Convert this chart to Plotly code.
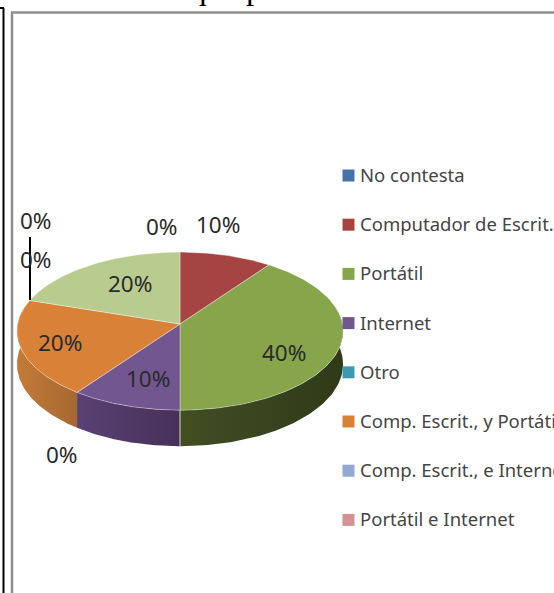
import numpy as np
import plotly.graph_objects as go

categories = ["No contesta", "Computador de Escrit.", "Portátil", "Internet", "Otro",
              "Comp. Escrit., y Portátil", "Comp. Escrit., e Internet", "Portátil e Internet", ""]
values = [0, 10, 40, 10, 0, 20, 0, 0, 20]
colors = ["#4572a7", "#a54442", "#87a54b", "#71568f", "#3f98b0",
          "#da8138", "#94a9d1", "#d19393", "#b8cc90"]
side_ramps = {1: ("#6e2d2c", "#6e2d2c"), 2: ("#414f23", "#2f3a18"), 3: ("#5a4175", "#453158"),
              5: ("#c47a38", "#a66830"), 8: ("#7a8a5c", "#7a8a5c")}
pct_labels = ["0%", "10%", "40%", "10%", "0%", "20%", "0%", "0%", "20%"]
label_xy = [(162, 226), (218, 224), (284, 352), (148, 378), (62, 454),
            (60, 342), (36, 220), (36, 259), (130, 283)]
title_text = "que posee o usa."

CX, CY, RX, RY, PERSP, DEPTH = 180, 324, 162.4, 78.4, 0.09, 32.8


def rim(deg, drop=0.0):
    t = np.radians(deg)
    s, c = np.sin(t), np.cos(t)
    w = 1 + PERSP * c
    return CX + RX * s / w, CY - RY * c / w + drop / w


fig = go.Figure()
total = sum(values)
edges = np.cumsum([0] + values) / total * 360

# side walls first, so the top surface covers them
for i, v in enumerate(values):
    lo, hi = max(edges[i], 80), min(edges[i + 1], 280)
    if v == 0 or hi <= lo:
        continue
    a = np.linspace(lo, hi, 80)
    x1, y1 = rim(a)
    x2, y2 = rim(a[::-1], DEPTH)
    ramp = side_ramps[i]
    fig.add_trace(go.Scatter(
        x=np.r_[x1, x2, x1[:1]], y=np.r_[y1, y2, y1[:1]], mode="lines", fill="toself",
        line=dict(width=0), hoverinfo="skip", showlegend=False,
        fillgradient=dict(type="horizontal", colorscale=[[0, ramp[0]], [1, ramp[1]]]),
    ))

# separator on the front wall
for deg in edges:
    if 90 < deg < 270 and abs(deg - 180) < 1:
        x0, y0 = rim(deg)
        x1, y1 = rim(deg, DEPTH)
        fig.add_trace(go.Scatter(x=[x0, x1], y=[y0, y1], mode="lines",
                                 line=dict(color="#d8dcc8", width=1),
                                 hoverinfo="skip", showlegend=False))

# top surface
for i, v in enumerate(values):
    if v == 0:
        continue
    a = np.linspace(edges[i], edges[i + 1], 120)
    x, y = rim(a)
    fig.add_trace(go.Scatter(
        x=np.r_[CX, x, CX], y=np.r_[CY, y, CY], mode="lines", fill="toself",
        fillcolor=colors[i], line=dict(color="rgba(255,255,255,0.45)", width=0.8),
        name=categories[i] or "Otros", hoverinfo="skip", showlegend=False,
    ))

# legend swatches (eight named entries)
named = [i for i, c in enumerate(categories) if c]
legend_y = [175.5 + 49.2 * k for k in range(len(named))]
fig.add_trace(go.Scatter(
    x=[348.5] * len(named), y=legend_y, mode="markers",
    marker=dict(symbol="square", size=12, color=[colors[i] for i in named],
                line=dict(width=0)),
    hoverinfo="skip", showlegend=False,
))

annotations = []
for k, i in enumerate(named):
    annotations.append(dict(x=358, y=legend_y[k] - 1, text=categories[i], showarrow=False,
                            xanchor="left", yanchor="middle", xref="x", yref="y",
                            font=dict(family="Noto Sans", size=18.5, color="#454545")))
for txt, (lx, ly) in zip(pct_labels, label_xy):
    annotations.append(dict(x=lx, y=ly, text=txt, showarrow=False, xref="x", yref="y",
                            font=dict(family="Noto Sans", size=22.5, color="#2a2a2a")))
annotations.append(dict(x=188 / 554, y=1 - 8 / 593, text=title_text, showarrow=False,
                        xref="paper", yref="paper", xanchor="left", yanchor="bottom",
                        font=dict(family="Liberation Serif", size=33, color="#000000")))

shapes = [
    dict(type="line", x0=30, x1=30, y0=237, y1=300, line=dict(color="#000", width=2)),
    dict(type="line", x0=3.5, x1=3.5, y0=8, y1=593, line=dict(color="#000", width=2)),
    dict(type="line", x0=0, x1=4, y0=8, y1=8, line=dict(color="#000", width=2)),
    dict(type="line", x0=12, x1=12, y0=12, y1=593, line=dict(color="#8f8f8f", width=2.5)),
    dict(type="line", x0=11, x1=554, y0=12.5, y1=12.5, line=dict(color="#8f8f8f", width=2.5)),
]

fig.update_layout(
    width=554, height=593, margin=dict(l=0, r=0, t=0, b=0),
    paper_bgcolor="white", plot_bgcolor="white", showlegend=False,
    xaxis=dict(range=[0, 554], visible=False, fixedrange=True),
    yaxis=dict(range=[593, 0], visible=False, fixedrange=True),
    annotations=annotations, shapes=shapes,
)
fig.write_html("out.html", config={"displayModeBar": False},
               post_script="document.body.style.margin='0';document.body.style.overflow='hidden';")
